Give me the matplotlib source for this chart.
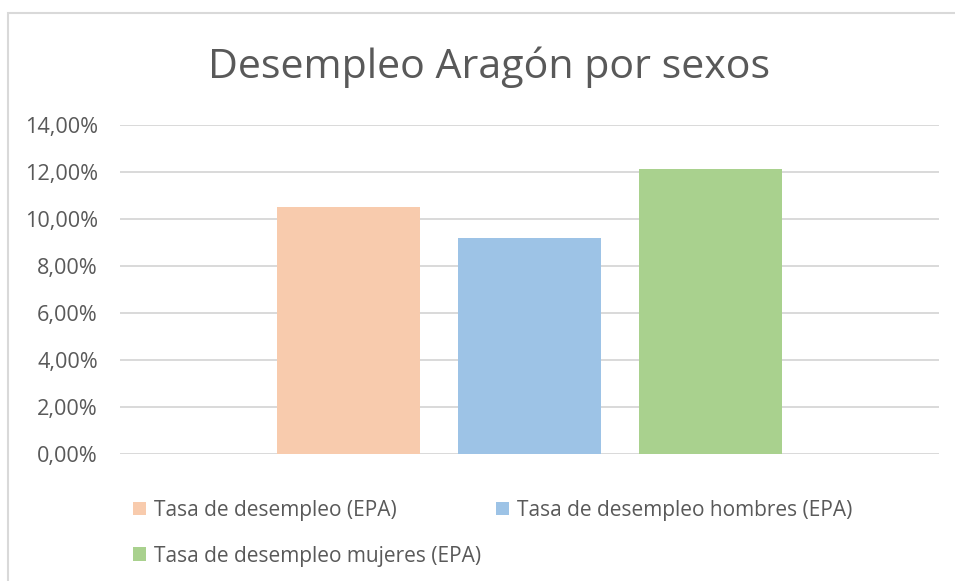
import matplotlib
matplotlib.use("Agg")
import matplotlib.pyplot as plt
from matplotlib.patches import Rectangle
from matplotlib.ticker import FuncFormatter

# Data
title = "Desempleo Aragón por sexos"
series = ["Tasa de desempleo (EPA)",
          "Tasa de desempleo hombres (EPA)",
          "Tasa de desempleo mujeres (EPA)"]
values = [0.1051, 0.0917, 0.1212]
colors = ["#F8CBAD", "#9DC3E6", "#A9D18E"]
yticks = [0.0, 0.02, 0.04, 0.06, 0.08, 0.10, 0.12, 0.14]

plt.rcParams['font.family'] = ['Open Sans', 'DejaVu Sans']
TXT = "#595959"

W, H = 955, 581
fig = plt.figure(figsize=(W / 100, H / 100), dpi=100)
fig.patch.set_facecolor("white")

# chart border (Excel chart area)
fig.add_artist(Rectangle((8 / W, -0.05), 1.1, (H - 13) / H + 0.05,
                         transform=fig.transFigure, fill=False,
                         edgecolor="#d9d9d9", lw=1.5))

left, right = 120 / W, 939 / W
bottom, top = 1 - 454 / H, 1 - 124.7 / H
ax = fig.add_axes([left, bottom, right - left, top - bottom])

positions = [-1, 0, 1]
handles = []
for x, v, c, s in zip(positions, values, colors, series):
    b = ax.bar(x, v, width=0.79, color=c, label=s, zorder=3)
    handles.append(b)

ax.set_xlim(-2.262, 2.262)
ax.set_ylim(0, 0.14)
ax.set_yticks(yticks)
ax.yaxis.set_major_formatter(FuncFormatter(lambda v, p: f"{v*100:.2f}%".replace(".", ",")))
ax.set_xticks([])
ax.tick_params(axis="y", length=0, pad=16, labelsize=15.6, labelcolor=TXT)
ax.grid(axis="y", color="#d9d9d9", lw=1.4, zorder=0)
for sp in ax.spines.values():
    sp.set_visible(False)

fig.text(489 / W, 1 - 67 / H, title, ha="center", va="center",
         fontsize=29.6, color=TXT)

order = [0, 2, 1]
leg = fig.legend([handles[i] for i in order], [series[i] for i in order],
                 ncol=2, loc="upper left", bbox_to_anchor=(133 / W, 1 - 500 / H),
                 frameon=False, fontsize=15, handlelength=0.63, handleheight=0.63,
                 handletextpad=0.38, columnspacing=0.72, labelspacing=1.18,
                 borderpad=0, borderaxespad=0)
for t in leg.get_texts():
    t.set_color(TXT)

fig.savefig("out.png", dpi=100)
